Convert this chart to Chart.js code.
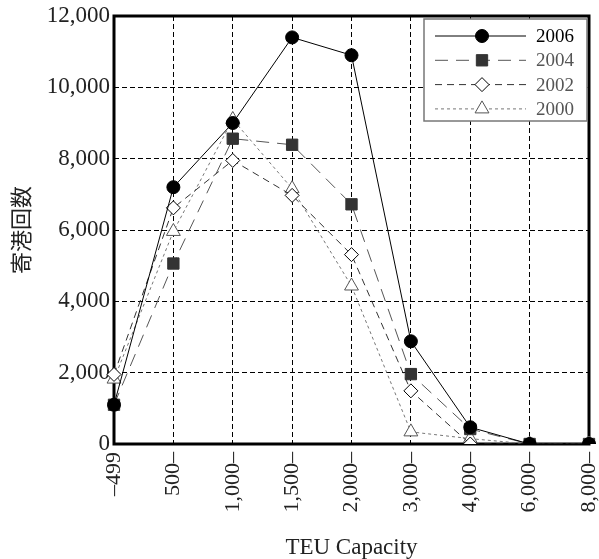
<!DOCTYPE html>
<html>
<head>
<meta charset="utf-8">
<script src="https://cdn.jsdelivr.net/npm/chart.js"></script>
<style>
  html, body { margin: 0; padding: 0; background: #fff; }
  #wrap { width: 599px; height: 559px; }
</style>
</head>
<body>
<div id="wrap"><canvas id="portChart" width="599" height="559"></canvas></div>
<script>
// Categories (TEU capacity bands)
const capacityLabels = ['–499', '500–', '1,000–', '1,500–', '2,000–', '3,000–', '4,000–', '6,000–', '8,000–'];

// Port call counts per year
const calls2006 = [1100, 7200, 9000, 11400, 10900, 2880, 470, 0, 0];
const calls2004 = [1100, 5060, 8560, 8390, 6720, 1960, 420, 0, 0];
const calls2002 = [1950, 6620, 7950, 6970, 5310, 1490, 0, 0, 0];
const calls2000 = [1820, 5960, 9100, 7160, 4430, 340, 150, 0, 0];

// Y axis range
const yMin = 0;
const yMax = 12000;
const yStep = 2000;

const serif = "'Liberation Serif', 'DejaVu Serif', serif";

// Frame around the plot area, drawn under the markers
const framePlugin = {
    id: 'frame',
    beforeDatasetsDraw(chart) {
        const a = chart.chartArea;
        const ctx = chart.ctx;
        ctx.save();
        ctx.strokeStyle = '#000';
        ctx.lineWidth = 3;
        ctx.strokeRect(a.left, a.top, a.right - a.left, a.bottom - a.top);
        ctx.restore();
    }
};

// Boxed legend in the top right corner of the plot
const legendBoxPlugin = {
    id: 'legendBox',
    afterDraw(chart) {
        const a = chart.chartArea;
        const ctx = chart.ctx;
        const boxW = 163, boxH = 102;
        const x0 = a.right - boxW - 2;
        const y0 = a.top + 3;
        ctx.save();
        ctx.fillStyle = '#fff';
        ctx.fillRect(x0, y0, boxW, boxH);
        ctx.strokeStyle = '#777';
        ctx.lineWidth = 1.5;
        ctx.strokeRect(x0, y0, boxW, boxH);

        chart.data.datasets.forEach((ds, i) => {
            const cy = y0 + 17 + i * 24.3;
            ctx.save();
            ctx.strokeStyle = ds.borderColor;
            ctx.lineWidth = ds.borderWidth;
            ctx.setLineDash(ds.borderDash || []);
            ctx.beginPath();
            ctx.moveTo(x0 + 11, cy);
            ctx.lineTo(x0 + 102, cy);
            ctx.stroke();
            ctx.restore();

            ctx.save();
            ctx.fillStyle = ds.pointBackgroundColor;
            ctx.strokeStyle = ds.pointBorderColor;
            ctx.lineWidth = 1;
            Chart.helpers.drawPoint(ctx, {
                pointStyle: ds.pointStyle,
                rotation: 0,
                radius: ds.pointRadius,
                borderWidth: 1
            }, x0 + 58, cy);
            ctx.restore();

            ctx.fillStyle = ds.legendTextColor;
            ctx.font = "19px " + serif;
            ctx.textBaseline = 'middle';
            ctx.textAlign = 'left';
            ctx.fillText(ds.label, x0 + 112, cy + 1);
        });
        ctx.restore();
    }
};

const ctx = document.getElementById('portChart').getContext('2d');
new Chart(ctx, {
    type: 'line',
    data: {
        labels: capacityLabels,
        datasets: [
            {
                label: '2006',
                data: calls2006,
                borderColor: '#000',
                borderWidth: 1,
                pointStyle: 'circle',
                pointRadius: 6.5,
                pointBackgroundColor: '#000',
                pointBorderColor: '#000',
                legendTextColor: '#000'
            },
            {
                label: '2004',
                data: calls2004,
                borderColor: '#555',
                borderWidth: 1,
                borderDash: [13, 8],
                pointStyle: 'rect',
                pointRadius: 8,
                pointBackgroundColor: '#333',
                pointBorderColor: '#333',
                legendTextColor: '#555'
            },
            {
                label: '2002',
                data: calls2002,
                borderColor: '#333',
                borderWidth: 1,
                borderDash: [7, 5],
                pointStyle: 'rectRot',
                pointRadius: 7,
                pointBackgroundColor: '#fff',
                pointBorderColor: '#000',
                legendTextColor: '#555'
            },
            {
                label: '2000',
                data: calls2000,
                borderColor: '#777',
                borderWidth: 1,
                borderDash: [3, 3],
                pointStyle: 'triangle',
                pointRadius: 8,
                pointBackgroundColor: '#fff',
                pointBorderColor: '#555',
                legendTextColor: '#555'
            }
        ]
    },
    options: {
        responsive: false,
        animation: false,
        layout: { padding: { top: 16, right: 10, left: 0, bottom: 0 } },
        plugins: {
            legend: { display: false },
            tooltip: { enabled: false }
        },
        elements: {
            line: { tension: 0 },
            point: { borderWidth: 1, hitRadius: 0 }
        },
        scales: {
            x: {
                offset: false,
                grid: {
                    color: '#000',
                    lineWidth: 1,
                    drawTicks: false
                },
                border: { display: false, dash: [5, 3] },
                ticks: {
                    autoSkip: false,
                    maxRotation: 90,
                    minRotation: 90,
                    padding: 8,
                    color: '#222',
                    font: { family: serif, size: 22 }
                },
                title: {
                    display: true,
                    text: 'TEU Capacity',
                    color: '#222',
                    font: { family: serif, size: 23, lineHeight: 1 },
                    padding: { top: 0, bottom: 0 }
                },
                afterFit(scale) {
                    scale.height = 115;
                    scale.paddingLeft = 0;
                    scale.paddingRight = 0;
                }
            },
            y: {
                min: yMin,
                max: yMax,
                grid: {
                    color: '#000',
                    lineWidth: 1,
                    drawTicks: false
                },
                border: { display: false, dash: [5, 3] },
                ticks: {
                    stepSize: yStep,
                    padding: 4,
                    color: '#222',
                    font: { family: serif, size: 23 },
                    callback: (v) => v.toLocaleString('en-US')
                },
                title: {
                    display: true,
                    text: '寄港回数',
                    color: '#222',
                    font: { family: "'Noto Sans CJK JP', sans-serif", size: 22, lineHeight: 1.2 },
                    padding: { top: 7, bottom: 0 }
                },
                afterFit(scale) {
                    scale.width = 114;
                    scale.paddingTop = 0;
                    scale.paddingBottom = 0;
                }
            }
        }
    },
    plugins: [framePlugin, legendBoxPlugin]
});
</script>
</body>
</html>
